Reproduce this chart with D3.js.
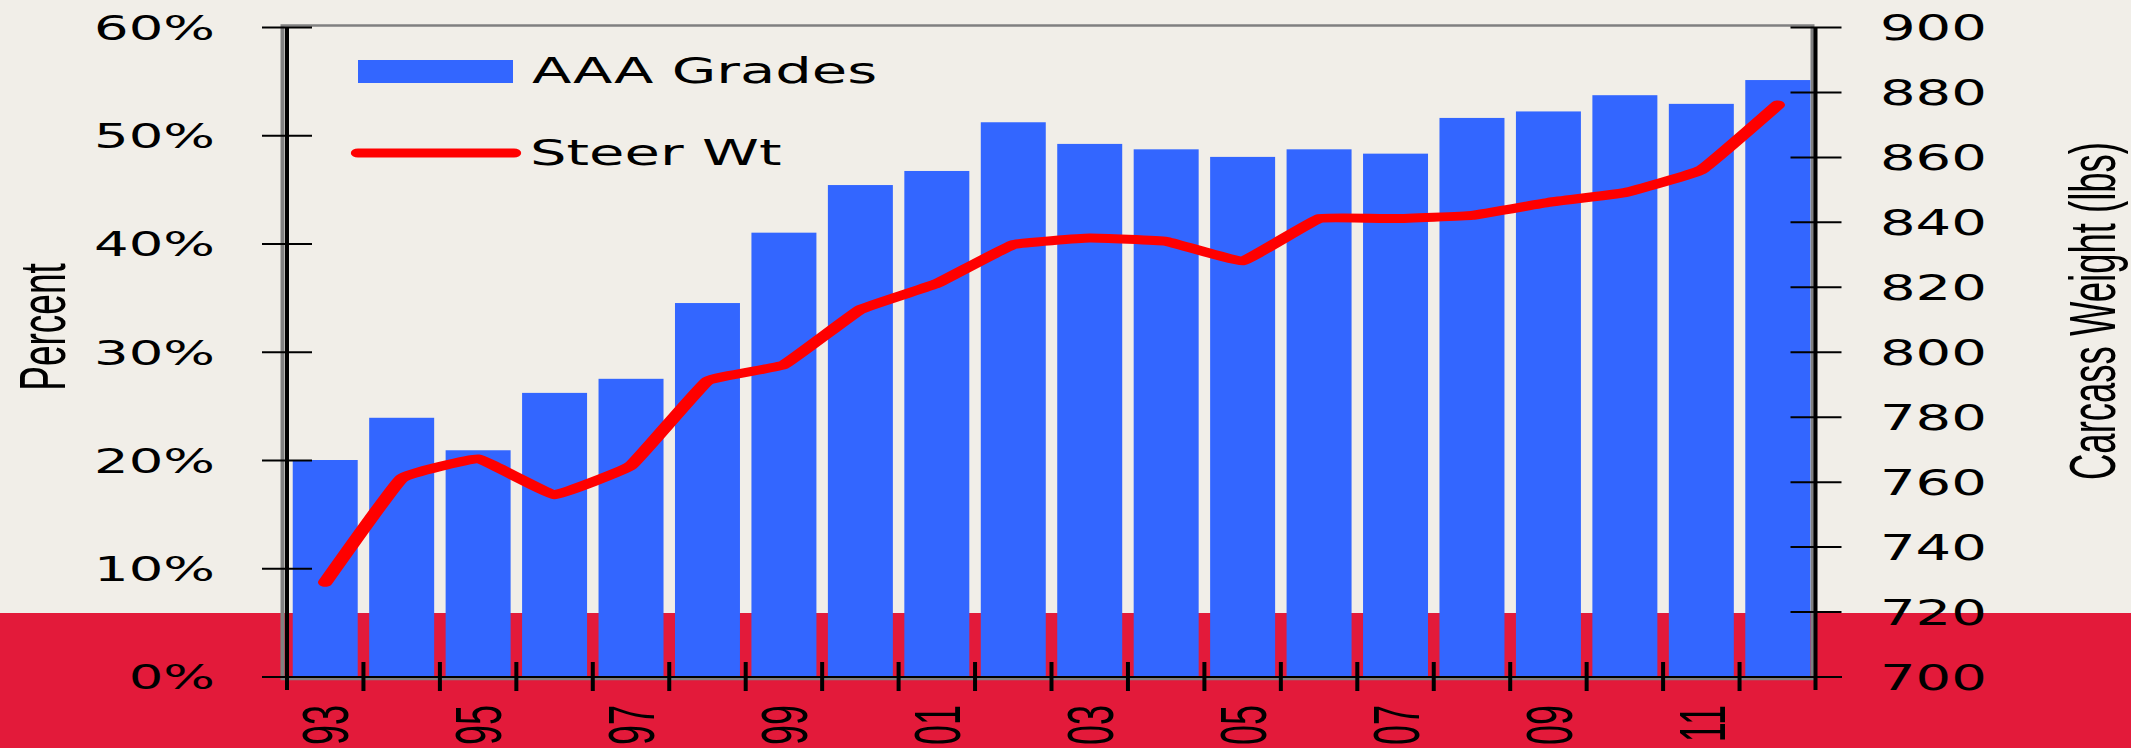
<!DOCTYPE html>
<html>
<head>
<meta charset="utf-8">
<script src="https://cdn.jsdelivr.net/npm/d3@7"></script>
<style>
  html, body { margin: 0; padding: 0; background: #f1eee8; overflow: hidden; }
  svg { display: block; }
</style>
</head>
<body>
<div id="chart"></div>
<script>
// data
const years = [1993, 1994, 1995, 1996, 1997, 1998, 1999, 2000, 2001, 2002,
               2003, 2004, 2005, 2006, 2007, 2008, 2009, 2010, 2011, 2012];
const aaaPct = [20.0, 23.9, 20.9, 26.2, 27.5, 34.5, 41.0, 45.4, 46.7, 51.2,
                49.2, 48.7, 48.0, 48.7, 48.3, 51.6, 52.2, 53.7, 52.9, 55.1];
const steerWt = [729, 761, 767, 756, 765, 791, 796, 813, 821, 833,
                 835, 834, 828, 841, 841, 842, 846, 849, 856, 876];
const pctTicks = [0, 10, 20, 30, 40, 50, 60];
const wtTicks = [700, 720, 740, 760, 780, 800, 820, 840, 860, 880, 900];
const yearLabels = ["93", "95", "97", "99", "01", "03", "05", "07", "09", "11"];
const labelYears = [1993, 1995, 1997, 1999, 2001, 2003, 2005, 2007, 2009, 2011];

// the picture is stretched sideways, so draw in a squeezed space and scale it out
const S = 1.6;
const sx = (v) => v / S;

const svg = d3.select("#chart")
  .append("svg")
  .attr("width", 2131)
  .attr("height", 748);

// background + red band at the bottom
svg.append("rect").attr("width", 2131).attr("height", 748).attr("fill", "#f1eee8");
svg.append("rect").attr("y", 613).attr("width", 2131).attr("height", 135).attr("fill", "#e31a3a");

const g = svg.append("g").attr("transform", `scale(${S},1)`);

// scales
const x = d3.scaleBand()
  .domain(years)
  .range([sx(287), sx(1816)])
  .paddingInner(0.15)
  .paddingOuter(0.075);

const yL = d3.scaleLinear().domain([0, 60]).range([676.5, 27]);
const yR = d3.scaleLinear().domain([700, 900]).range([676.5, 27]);

// plot area border
g.append("rect")
  .attr("x", sx(282.5))
  .attr("y", 25.5)
  .attr("width", sx(1812.5 - 282.5))
  .attr("height", 653.5)
  .attr("fill", "none")
  .attr("stroke", "#808080")
  .attr("stroke-width", 2.5);

// bars
g.selectAll("rect.bar")
  .data(aaaPct)
  .enter()
  .append("rect")
  .attr("class", "bar")
  .attr("x", (d, i) => x(years[i]))
  .attr("y", (d) => yL(d))
  .attr("width", x.bandwidth())
  .attr("height", (d) => yL(0) - yL(d))
  .attr("fill", "#3366ff");

// steer weight line (only lightly smoothed)
const line = d3.line()
  .x((d, i) => x(years[i]) + x.bandwidth() / 2)
  .y((d) => yR(d))
  .curve(d3.curveCardinal.tension(0.75));

g.append("path")
  .datum(steerWt)
  .attr("d", line)
  .attr("fill", "none")
  .attr("stroke", "#ff0000")
  .attr("stroke-width", 9)
  .attr("stroke-linejoin", "round")
  .attr("stroke-linecap", "round");

// left axis
const gL = g.append("g")
  .attr("transform", `translate(${sx(287)},0)`)
  .call(d3.axisLeft(yL).tickValues(pctTicks).tickFormat((d) => d + "%").tickSize(0))
  .attr("font-family", "'DejaVu Sans', Verdana, sans-serif")
  .attr("font-size", 34);
gL.select(".domain").remove();
gL.selectAll(".tick line")
  .attr("x1", sx(-25)).attr("x2", sx(25))
  .attr("stroke", "#000").attr("stroke-width", 2);
gL.selectAll(".tick text")
  .attr("x", sx(215 - 287))
  .attr("dy", "0.36em")
  .attr("fill", "#000");

// right axis
const gR = g.append("g")
  .attr("transform", `translate(${sx(1815.5)},0)`)
  .call(d3.axisRight(yR).tickValues(wtTicks).tickSize(0))
  .attr("font-family", "'DejaVu Sans', Verdana, sans-serif")
  .attr("font-size", 35);
gR.select(".domain").remove();
gR.selectAll(".tick line")
  .attr("x1", sx(-25)).attr("x2", sx(26))
  .attr("stroke", "#000").attr("stroke-width", 2);
gR.selectAll(".tick text")
  .attr("x", sx(1880 - 1815.5))
  .attr("dy", "0.36em")
  .attr("fill", "#000");

// axis lines
g.append("line")
  .attr("x1", sx(287)).attr("x2", sx(287))
  .attr("y1", 27).attr("y2", 690)
  .attr("stroke", "#000").attr("stroke-width", 2.5);
g.append("line")
  .attr("x1", sx(1815.5)).attr("x2", sx(1815.5))
  .attr("y1", 27).attr("y2", 690)
  .attr("stroke", "#000").attr("stroke-width", 2.5);
g.append("line")
  .attr("x1", sx(262)).attr("x2", sx(1842))
  .attr("y1", 677).attr("y2", 677)
  .attr("stroke", "#000").attr("stroke-width", 2);

// category boundary ticks
g.selectAll("line.xtick")
  .data(years.slice(1))
  .enter()
  .append("line")
  .attr("class", "xtick")
  .attr("x1", (d) => x(d) - (x.step() * x.paddingInner()) / 2)
  .attr("x2", (d) => x(d) - (x.step() * x.paddingInner()) / 2)
  .attr("y1", 662)
  .attr("y2", 691)
  .attr("stroke", "#000")
  .attr("stroke-width", 2.5);

// year labels, rotated
g.selectAll("text.xlab")
  .data(labelYears)
  .enter()
  .append("text")
  .attr("class", "xlab")
  .attr("transform", (d) => `translate(${x(d) + x.bandwidth() / 2},705) rotate(-90) scale(1,1.12)`)
  .attr("text-anchor", "end")
  .attr("dy", "0.36em")
  .attr("font-family", "'Liberation Sans', Arial, sans-serif")
  .attr("font-size", 36)
  .attr("fill", "#000")
  .text((d, i) => yearLabels[i]);

// axis titles
g.append("text")
  .attr("transform", `translate(${sx(42)},327) rotate(-90) scale(1,1.1)`)
  .attr("text-anchor", "middle")
  .attr("dy", "0.36em")
  .attr("font-family", "'Liberation Sans', Arial, sans-serif")
  .attr("font-size", 37)
  .attr("fill", "#000")
  .text("Percent");

g.append("text")
  .attr("transform", `translate(${sx(2092)},311) rotate(-90) scale(1,1.1)`)
  .attr("text-anchor", "middle")
  .attr("dy", "0.36em")
  .attr("font-family", "'Liberation Sans', Arial, sans-serif")
  .attr("font-size", 36.5)
  .attr("fill", "#000")
  .text("Carcass Weight (lbs)");

// legend
g.append("rect")
  .attr("x", sx(358)).attr("y", 60)
  .attr("width", sx(513 - 358)).attr("height", 23)
  .attr("fill", "#3366ff");
g.append("text")
  .attr("x", sx(532)).attr("y", 83.3)
  .attr("font-family", "'DejaVu Sans', Verdana, sans-serif")
  .attr("font-size", 36)
  .attr("fill", "#000")
  .text("AAA Grades");

g.append("line")
  .attr("x1", sx(358)).attr("x2", sx(514))
  .attr("y1", 153).attr("y2", 153)
  .attr("stroke", "#ff0000")
  .attr("stroke-width", 9)
  .attr("stroke-linecap", "round");
g.append("text")
  .attr("x", sx(530)).attr("y", 165)
  .attr("font-family", "'DejaVu Sans', Verdana, sans-serif")
  .attr("font-size", 36)
  .attr("fill", "#000")
  .text("Steer Wt");
</script>
</body>
</html>
